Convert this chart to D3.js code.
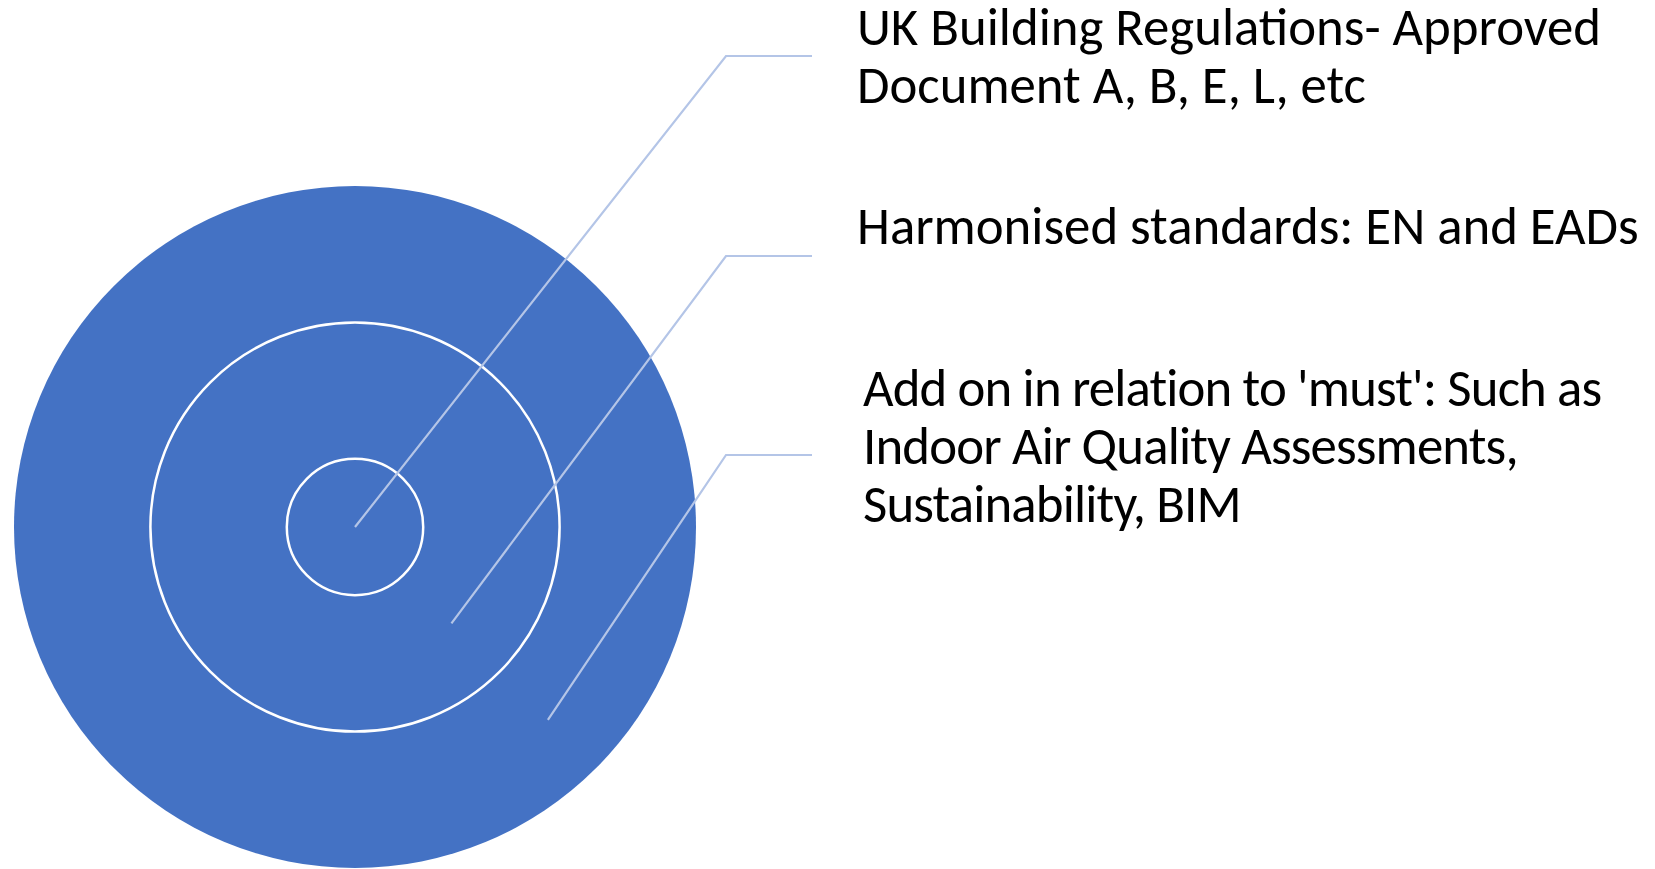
<!DOCTYPE html>
<html>
<head>
<meta charset="utf-8">
<script src="https://cdn.jsdelivr.net/npm/d3@7"></script>
<style>
  html, body { margin: 0; padding: 0; background: #fff; }
  svg { display: block; }
</style>
</head>
<body>
<div id="chart"></div>
<script>
// Data
const levels = [1, 3, 5]; // ring radii in "units", inner to outer
const anchors = [0, 2, 4]; // where each connector touches the target, in units
const labels = [
  ["UK Building Regulations- Approved", "Document A, B, E, L, etc"],
  ["Harmonised standards: EN and EADs"],
  ["Add on in relation to 'must': Such as", "Indoor Air Quality Assessments,", "Sustainability, BIM"],
];

// Layout
const W = 1655, H = 869;
const CX = 355, CY = 527, R = 341;
const ELBOW_X = 726, END_X = 812;
const rowY = [56, 256, 455];       // connector elbow heights
const textX = [857, 857, 863];
const textY = [45, 244, 406];      // first baseline of each label
const widest = [750, 782, 738];    // width of the longest line of each label
const LINE_H = 58;

const r = d3.scaleLinear().domain([0, d3.max(levels)]).range([0, R]);

const svg = d3.select("#chart").append("svg")
  .attr("width", W)
  .attr("height", H);

// Target rings
svg.append("circle")
  .attr("cx", CX).attr("cy", CY)
  .attr("r", r(levels[2]))
  .attr("fill", "#4472c4");

svg.selectAll("circle.ring")
  .data(levels.slice(0, 2))
  .enter()
  .append("circle")
  .attr("class", "ring")
  .attr("cx", CX).attr("cy", CY)
  .attr("r", (d) => r(d))
  .attr("fill", "none")
  .attr("stroke", "#fff")
  .attr("stroke-width", 2.5);

// Connectors
const diag = Math.SQRT1_2;
svg.selectAll("path.conn")
  .data(anchors)
  .enter()
  .append("path")
  .attr("class", "conn")
  .attr("d", (d, i) => {
    const x0 = CX + r(d) * diag, y0 = CY + r(d) * diag;
    return d3.line()([[x0, y0], [ELBOW_X, rowY[i]], [END_X, rowY[i]]]);
  })
  .attr("fill", "none")
  .attr("stroke", "#b4c5e7")
  .attr("stroke-width", 2.2);

// Labels
const txt = svg.selectAll("text.lbl")
  .data(labels)
  .enter()
  .append("text")
  .attr("class", "lbl")
  .attr("x", (d, i) => textX[i])
  .attr("y", (d, i) => textY[i])
  .attr("fill", "#000")
  .style("font-family", "Carlito, 'Liberation Sans Narrow', 'Open Sans', sans-serif")
  .style("font-size", "48px");

txt.selectAll("tspan")
  .data((d, i) => d.map((s) => ({ s, i })))
  .enter()
  .append("tspan")
  .attr("x", (d) => textX[d.i])
  .attr("dy", (d, j) => (j === 0 ? 0 : LINE_H))
  .text((d) => d.s);

// fit font size so the single line label spans like the original
const probe = txt.filter((d, i) => i === 1).node();
const fs = 48 * widest[1] / probe.getComputedTextLength();
txt.style("font-size", fs + "px");

// tighten labels that still run wider than the original
txt.each(function (d, i) {
  const spans = d3.select(this).selectAll("tspan").nodes();
  let maxW = 0, maxN = 1;
  spans.forEach((s) => {
    const w = s.getComputedTextLength();
    if (w > maxW) { maxW = w; maxN = s.textContent.length; }
  });
  if (maxW > widest[i] + 4) {
    d3.select(this).style("letter-spacing", (widest[i] - maxW) / maxN + "px");
  }
});
</script>
</body>
</html>
